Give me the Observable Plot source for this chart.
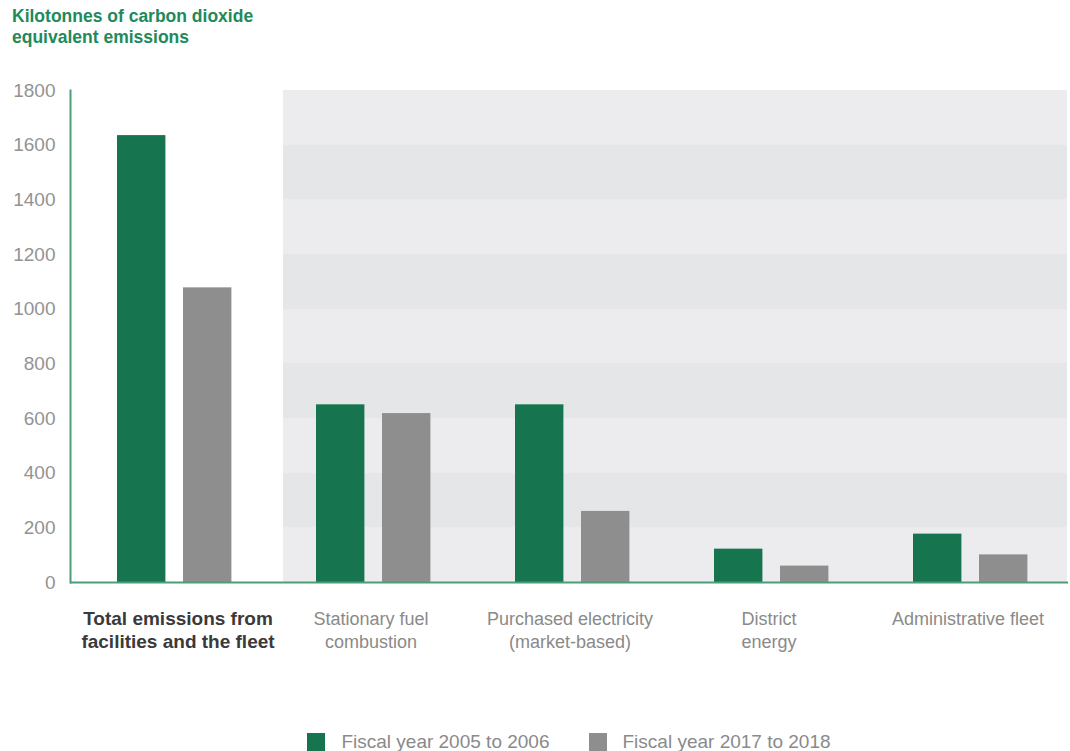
<!DOCTYPE html>
<html>
<head>
<meta charset="utf-8">
<script src="https://cdn.jsdelivr.net/npm/d3@7"></script>
<script src="https://cdn.jsdelivr.net/npm/@observablehq/plot@0.6"></script>
<style>
  body { margin: 0; background: #fff; font-family: "Liberation Sans", Arial, sans-serif; }
  #title { height: 49px; box-sizing: border-box; padding: 6px 0 0 12px; font-size: 17.5px; line-height: 21px; font-weight: bold; color: #218a5b; }
  #legend { display: flex; justify-content: center; align-items: center; margin-left: 70px; width: 998px; padding-top: 41px; gap: 39px; }
  .item { display: flex; align-items: center; font-size: 19px; color: #8a8a8a; }
  .sw { width: 18px; height: 18px; margin-right: 16px; }
</style>
</head>
<body>
<div id="title">Kilotonnes of carbon dioxide<br>equivalent emissions</div>
<div id="chart"></div>
<div id="legend"></div>
<script>
// ---- data ----
const categories = ["Total", "Stationary", "Purchased", "District", "Administrative"];
const categoryLabels = [
  "Total emissions from\nfacilities and the fleet",
  "Stationary fuel\ncombustion",
  "Purchased electricity\n(market-based)",
  "District\nenergy",
  "Administrative fleet"
];
const seriesNames = ["Fiscal year 2005 to 2006", "Fiscal year 2017 to 2018"];
const fy2005 = [1635, 650, 650, 122, 177];
const fy2017 = [1078, 618, 260, 60, 101];
const yTicks = [0, 200, 400, 600, 800, 1000, 1200, 1400, 1600, 1800];

// ---- styles ----
const GREEN = "#16754f";
const GRAY = "#8e8e8e";
const AXIS = "#4b9e78";
const BG_LIGHT = "#ececee";
const BG_DARK = "#e5e6e8";

const W = 1070, ML = 70, MR = 2;
const bw = (W - ML - MR) / categories.length;

const rows = categories.map((c, i) => ({cat: c, label: categoryLabels[i], a: fy2005[i], b: fy2017[i]}));

// background bands for the breakdown categories
const bands = [];
categories.slice(1).forEach(c => {
  for (let k = 0; k < yTicks.length - 1; k++) {
    bands.push({cat: c, y1: yTicks[k], y2: yTicks[k + 1], dark: k % 2 === 1});
  }
});
const bandMark = (filter, fill, insetLeft) =>
  Plot.rectY(bands.filter(filter), {x: "cat", y1: "y1", y2: "y2", fill, insetLeft, shapeRendering: "crispEdges"});

const chart = Plot.plot({
  width: W,
  height: 641,
  marginLeft: ML,
  marginRight: MR,
  marginTop: 41,
  marginBottom: 108,
  style: {fontFamily: "'Liberation Sans', Arial, sans-serif", fontSize: "18px", background: "transparent"},
  x: {type: "band", domain: categories, padding: 0, axis: null},
  y: {domain: [0, 1800]},
  marks: [
    bandMark(d => d.cat === categories[1] && !d.dark, BG_LIGHT, 12),
    bandMark(d => d.cat === categories[1] && d.dark, BG_DARK, 12),
    bandMark(d => d.cat !== categories[1] && !d.dark, BG_LIGHT, 0),
    bandMark(d => d.cat !== categories[1] && d.dark, BG_DARK, 0),
    Plot.barY(rows, {x: "cat", y: "a", fill: GREEN, insetLeft: 45, insetRight: bw - 94}),
    Plot.barY(rows, {x: "cat", y: "b", fill: GRAY, insetLeft: 111, insetRight: bw - 160}),
    Plot.axisY({ticks: yTicks, tickSize: 0, tickPadding: 15, tickFormat: d => String(d), color: "#939393", fontSize: 19, label: null}),
    Plot.frame({anchor: "left", stroke: AXIS, strokeWidth: 2}),
    Plot.ruleY([0], {stroke: AXIS, strokeWidth: 2}),
    Plot.text(rows.slice(0, 1), {x: "cat", text: "label", frameAnchor: "bottom", lineAnchor: "top", dy: 26, dx: 6, fontSize: 19, lineHeight: 1.22, fontWeight: "bold", fill: "#3a3a3a"}),
    Plot.text(rows.slice(1), {x: "cat", text: "label", frameAnchor: "bottom", lineAnchor: "top", dy: 26, fontSize: 18, lineHeight: 1.28, fill: "#8a8a8a"})
  ]
});
document.getElementById("chart").appendChild(chart);

const legend = document.getElementById("legend");
[GREEN, GRAY].forEach((col, i) => {
  const it = document.createElement("div");
  it.className = "item";
  const sw = document.createElement("div");
  sw.className = "sw";
  sw.style.background = col;
  it.appendChild(sw);
  it.appendChild(document.createTextNode(seriesNames[i]));
  legend.appendChild(it);
});
</script>
</body>
</html>
